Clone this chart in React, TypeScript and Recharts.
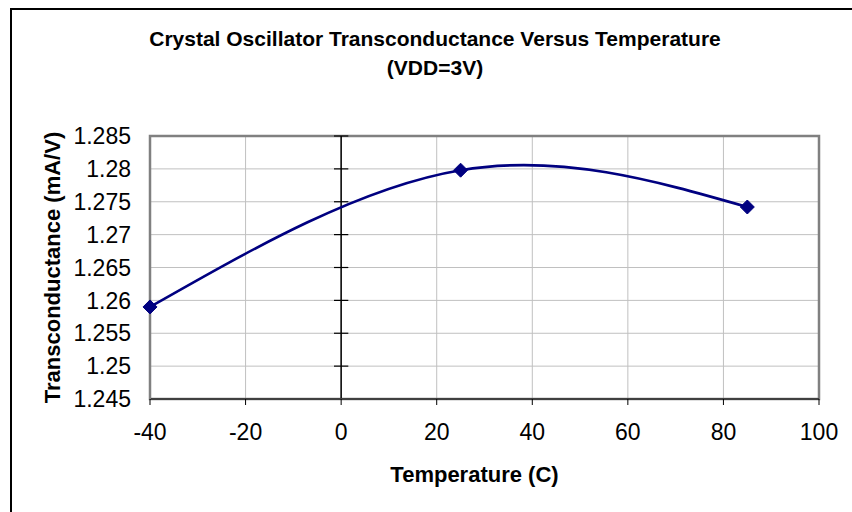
import React from 'react';
import { LineChart, Line, XAxis, YAxis, CartesianGrid, ReferenceLine, ReferenceArea } from 'recharts';

const temperatures = [-40, 25, 85];
const transconductance = [1.259, 1.2798, 1.2742];
const xTicks = [-40, -20, 0, 20, 40, 60, 80, 100];
const yTicks = [1.245, 1.25, 1.255, 1.26, 1.265, 1.27, 1.275, 1.28, 1.285];

const data = temperatures.map((t, i) => ({ t, g: transconductance[i] }));

const FONT = '"Liberation Sans", Arial, sans-serif';

const Diamond = (props: any) => {
  const { cx, cy } = props;
  if (cx == null || cy == null) return null;
  const r = 7;
  return (
    <path
      d={`M${cx},${cy - r} L${cx + r},${cy} L${cx},${cy + r} L${cx - r},${cy} Z`}
      fill="#000080"
      stroke="#000080"
      strokeWidth={1}
    />
  );
};

export default function App() {
  return (
    <div style={{ position: 'absolute', left: 0, top: 0, width: 852, height: 512, overflow: 'hidden', background: '#fff', fontFamily: FONT }}>
      <div style={{ position: 'absolute', left: 10, top: 8, width: 900, height: 600, borderLeft: '2px solid #000', borderTop: '2px solid #000' }} />
      <div style={{ position: 'absolute', left: 0, top: 0 }}>
        <LineChart width={852} height={512} data={data} margin={{ top: 136, right: 33, bottom: 33, left: 0 }}>
          <CartesianGrid stroke="#c0c0c0" strokeWidth={1} />
          <ReferenceArea x1={-40} x2={100} y1={1.245} y2={1.285} fill="none" stroke="#808080" strokeWidth={2.5} ifOverflow="visible" />
          <XAxis
            dataKey="t"
            type="number"
            domain={[-40, 100]}
            ticks={xTicks}
            interval={0}
            height={80}
            axisLine={{ stroke: '#404040', strokeWidth: 2 }}
            tickLine={{ stroke: '#000', strokeWidth: 1 }}
            tickSize={6}
            tickMargin={19}
            tick={{ fill: '#000', fontSize: 23, fontFamily: FONT }}
            label={{ value: 'Temperature (C)', position: 'insideBottom', offset: -3, dx: -10, fill: '#000', fontSize: 22, fontWeight: 'bold', fontFamily: FONT }}
          />
          <YAxis
            type="number"
            domain={[1.245, 1.285]}
            ticks={yTicks}
            interval={0}
            width={150}
            axisLine={{ stroke: '#808080', strokeWidth: 2 }}
            tickLine={false}
            tickSize={5}
            tickMargin={14}
            tickFormatter={(v: number) => String(v)}
            tick={{ fill: '#000', fontSize: 23, fontFamily: FONT }}
            label={{ value: 'Transconductance (mA/V)', angle: -90, position: 'center', dx: -23, fill: '#000', fontSize: 22, fontWeight: 'bold', fontFamily: FONT }}
          />
          <ReferenceLine x={0} stroke="#000" strokeWidth={1.5} />
          {yTicks.map((v) => (
            <ReferenceLine
              key={v}
              segment={[{ x: -1.5, y: v }, { x: 1.5, y: v }]}
              stroke="#000"
              strokeWidth={1.2}
              ifOverflow="visible"
            />
          ))}
          <Line
            dataKey="g"
            type="natural"
            stroke="#000080"
            strokeWidth={2.6}
            dot={<Diamond />}
            activeDot={false}
            isAnimationActive={false}
          />
        </LineChart>
      </div>
      <div style={{ position: 'absolute', left: 0, width: 870, top: 24, textAlign: 'center', fontFamily: FONT, fontWeight: 'bold', fontSize: 21, lineHeight: '29px', color: '#000' }}>
        Crystal Oscillator Transconductance Versus Temperature
        <br />
        (VDD=3V)
      </div>
    </div>
  );
}
